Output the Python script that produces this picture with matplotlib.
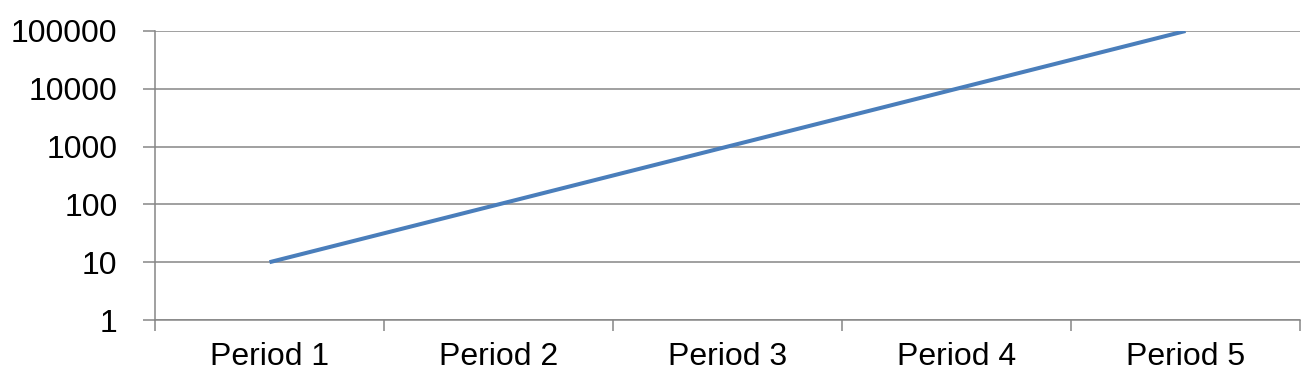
import numpy as np
import matplotlib.pyplot as plt

periods = ['Period 1', 'Period 2', 'Period 3', 'Period 4', 'Period 5']
values = [10, 100, 1000, 10000, 100000]
ytick_vals = [1, 10, 100, 1000, 10000, 100000]

plt.rcParams['font.family'] = ['Liberation Sans', 'DejaVu Sans']

fig = plt.figure(figsize=(13.1, 3.9), dpi=100)
ax = fig.add_axes([155/1310, 1 - 320/390, (1300-155)/1310, (320-31)/390])

x = np.arange(len(periods))
ax.plot(x, values, color='#4a7ebb', lw=2.9, solid_capstyle='butt')

ax.set_yscale('log')
ax.set_ylim(1, 100000)
ax.set_yticks(ytick_vals)
ax.set_yticklabels([str(v) for v in ytick_vals])
ax.yaxis.set_minor_locator(plt.NullLocator())
ax.grid(axis='y', color='#868686', lw=1.1)
ax.set_axisbelow(True)

ax.set_xlim(-0.5, len(periods) - 0.5)
ax.set_xticks(x)
ax.set_xticklabels(periods)
ax.set_xticks(np.arange(len(periods) + 1) - 0.5, minor=True)
ax.tick_params(axis='x', which='major', length=0, pad=16, labelsize=23)
ax.tick_params(axis='x', which='minor', length=8, width=1.1, color='#868686')
ax.tick_params(axis='y', length=9, width=1.1, color='#868686', labelsize=23, pad=18)

for s in ['top', 'right']:
    ax.spines[s].set_visible(False)
for s in ['left', 'bottom']:
    ax.spines[s].set_color('#868686')
    ax.spines[s].set_linewidth(1.1)

fig.savefig('out.png', dpi=100)
